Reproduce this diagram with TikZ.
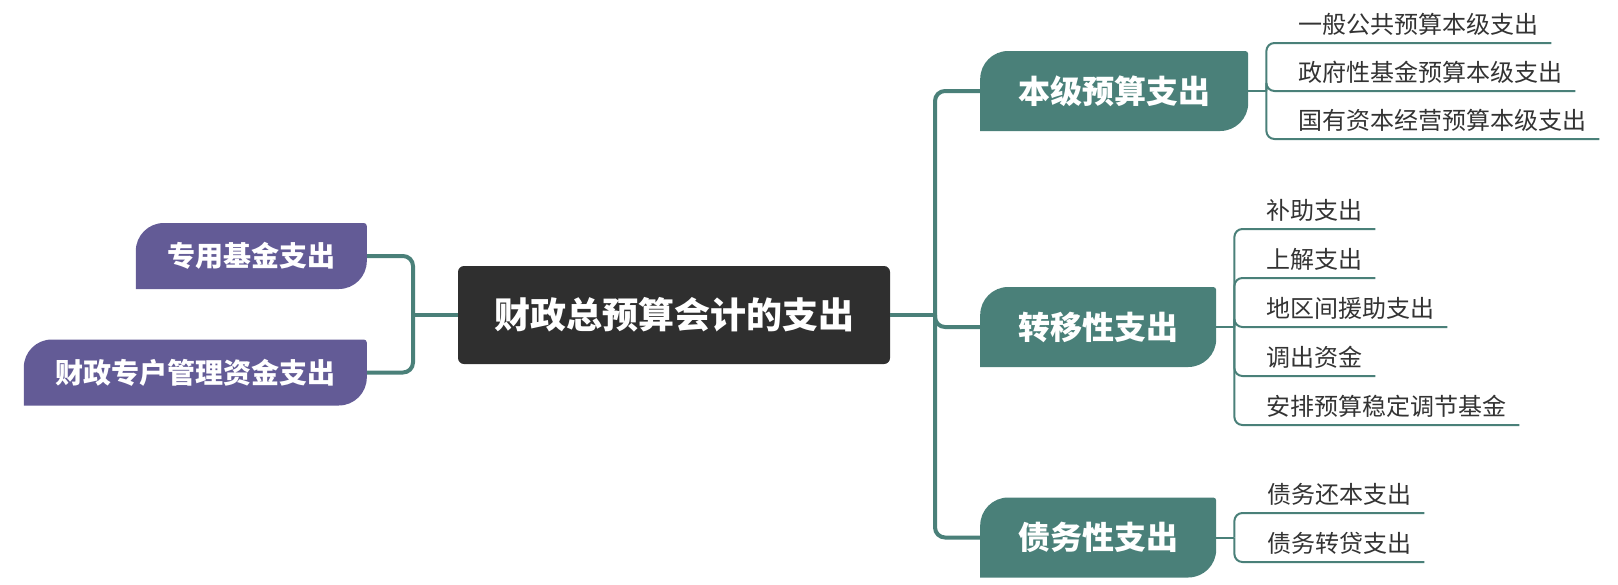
\documentclass[tikz,border=0pt]{standalone}
\usepackage{fontspec}
\setmainfont{Noto Sans CJK SC}
\usepackage{tikz}
\usetikzlibrary{positioning}
\usepackage{xcolor}
\definecolor{rootfill}{RGB}{47, 47, 47}
\definecolor{branch}{RGB}{74, 128, 121}
\definecolor{fund}{RGB}{99, 91, 150}
\definecolor{leaftext}{RGB}{51, 51, 51}

\begin{document}
\begin{tikzpicture}[
    x=1pt, y=1pt,
    root/.style={rectangle, fill=rootfill, rounded corners=6pt, text=white, inner xsep=36pt, minimum height=98pt, font=\bfseries\fontsize{36}{43}\selectfont},
    tab/.style={rectangle, text=white, path picture={
        \fill[#1] (path picture bounding box.south west)
            -- ([yshift=-28pt]path picture bounding box.north west)
            arc[start angle=180, end angle=90, radius=28pt]
            -- ([xshift=-3pt]path picture bounding box.north east)
            arc[start angle=90, end angle=0, radius=3pt]
            -- ([yshift=28pt]path picture bounding box.south east)
            arc[start angle=0, end angle=-90, radius=28pt]
            -- cycle;}},
    main/.style={tab=branch, inner xsep=38pt, minimum height=80pt, font=\bfseries\fontsize{32}{38}\selectfont},
    side/.style={tab=fund, inner xsep=31.5pt, minimum height=66pt, font=\bfseries\fontsize{28}{34}\selectfont},
    leaf/.style={anchor=base west, inner sep=0pt, text=leaftext, font=\fontsize{24}{29}\selectfont},
    trunk/.style={draw=branch, line width=4pt, rounded corners=10pt},
    twig/.style={draw=branch, line width=2pt, rounded corners=8pt}
]
\useasboundingbox (0,0) rectangle (1618,-584);

% 中心主题
\node[root] (root) at (674,-315) {财政总预算会计的支出};

% 左侧分支
\node[side, anchor=east] (fund1) at (367,-256) {专用基金支出};
\node[side, anchor=east] (fund2) at (367,-372.5) {财政专户管理资金支出};

% 右侧分支
\node[main, anchor=west] (local) at (980,-91) {本级预算支出};
\node[main, anchor=west] (transfer) at (980,-327) {转移性支出};
\node[main, anchor=west] (debt) at (980,-537.5) {债务性支出};

% 本级预算支出
\node[leaf] (local1) at (1298,-33) {一般公共预算本级支出};
\node[leaf] (local2) at (1298,-81) {政府性基金预算本级支出};
\node[leaf] (local3) at (1298,-129) {国有资本经营预算本级支出};

% 转移性支出
\node[leaf] (trans1) at (1266,-219) {补助支出};
\node[leaf] (trans2) at (1266,-268) {上解支出};
\node[leaf] (trans3) at (1266,-317) {地区间援助支出};
\node[leaf] (trans4) at (1266,-366) {调出资金};
\node[leaf] (trans5) at (1266,-415) {安排预算稳定调节基金};

% 债务性支出
\node[leaf] (debt1) at (1267,-503) {债务还本支出};
\node[leaf] (debt2) at (1267,-552) {债务转贷支出};

% 连线
\coordinate (hubL) at (413,-315);
\coordinate (hubR) at (935,-315);
\draw[trunk] (root.west) -- (hubL);
\draw[trunk] (hubL) |- (fund1.east);
\draw[trunk] (hubL) |- (fund2.east);
\draw[trunk] (root.east) -- (hubR);
\draw[trunk] (hubR) |- (local.west);
\draw[trunk] (hubR) |- (transfer.west);
\draw[trunk] (hubR) |- (debt.west);

\coordinate (bLocal) at ([xshift=18pt]local.east);
\coordinate (bTrans) at ([xshift=18pt]transfer.east);
\coordinate (bDebt) at ([xshift=18pt]debt.east);
\draw[twig] (local.east) -- (bLocal);
\draw[twig] (transfer.east) -- (bTrans);
\draw[twig] (debt.east) -- (bDebt);

\draw[twig] (bLocal) |- ([shift={(13pt,-10pt)}]local1.base east);
\draw[twig] (bLocal) |- ([shift={(13pt,-10pt)}]local2.base east);
\draw[twig] (bLocal) |- ([shift={(13pt,-10pt)}]local3.base east);

\draw[twig] (bTrans) |- ([shift={(13pt,-10pt)}]trans1.base east);
\draw[twig] (bTrans) |- ([shift={(13pt,-10pt)}]trans2.base east);
\draw[twig] (bTrans) |- ([shift={(13pt,-10pt)}]trans3.base east);
\draw[twig] (bTrans) |- ([shift={(13pt,-10pt)}]trans4.base east);
\draw[twig] (bTrans) |- ([shift={(13pt,-10pt)}]trans5.base east);

\draw[twig] (bDebt) |- ([shift={(13pt,-10pt)}]debt1.base east);
\draw[twig] (bDebt) |- ([shift={(13pt,-10pt)}]debt2.base east);

\end{tikzpicture}
\end{document}
